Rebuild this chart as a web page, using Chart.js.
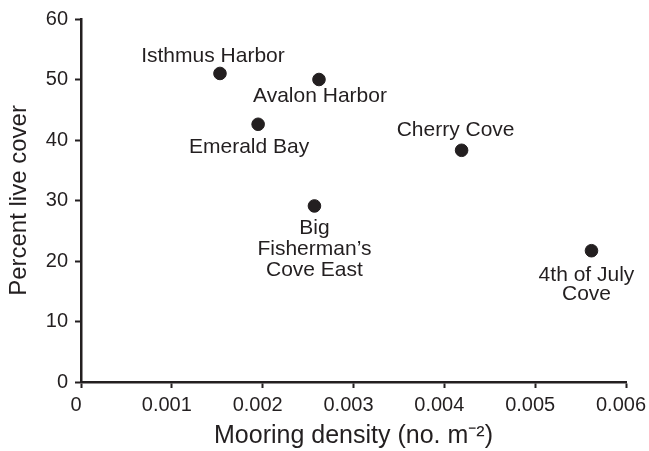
<!DOCTYPE html>
<html>
<head>
<meta charset="utf-8">
<script src="https://cdn.jsdelivr.net/npm/chart.js@4"></script>
<style>
  html, body { margin: 0; padding: 0; background: #fff; }
  #wrap { width: 649px; height: 451px; position: relative; }
</style>
</head>
<body>
<div id="wrap"><canvas id="grafico"></canvas></div>
<script>
// dados
const sitios = [
  ["Isthmus Harbor"],
  ["Avalon Harbor"],
  ["Emerald Bay"],
  ["Big", "Fisherman\u2019s", "Cove East"],
  ["Cherry Cove"],
  ["4th of July", "Cove"],
];
const densidade = [0.00153, 0.00262, 0.00195, 0.00257, 0.00419, 0.00562];
const coberturaViva = [51, 50, 42.6, 29.1, 38.3, 21.7];
const ticksX = [0, 0.001, 0.002, 0.003, 0.004, 0.005, 0.006];
const ticksY = [0, 10, 20, 30, 40, 50, 60];

// posição do rótulo em relação ao ponto (px): [dx, dy da 1a linha, entrelinha]
const deslocRotulo = [
  [-7, -17, 0],
  [1, 17, 0],
  [-9, 23, 0],
  [0, 22.5, 21],
  [-6, -20, 0],
  [-5, 24, 19.5],
];

const COR = "#231f20";
const FONTE = "'Liberation Sans', Arial, Helvetica, sans-serif";

const rotulosPlugin = {
  id: "rotulos",
  afterDatasetsDraw(chart) {
    const ctx = chart.ctx;
    const meta = chart.getDatasetMeta(0);
    ctx.save();
    ctx.fillStyle = COR;
    ctx.font = "21px " + FONTE;
    ctx.textAlign = "center";
    ctx.textBaseline = "middle";
    meta.data.forEach((pt, i) => {
      const [dx, dy, lh] = deslocRotulo[i];
      sitios[i].forEach((linha, k) => {
        ctx.fillText(linha, pt.x + dx, pt.y + dy + k * lh);
      });
    });
    ctx.restore();
  },
};

new Chart(document.getElementById("grafico"), {
  type: "scatter",
  data: {
    datasets: [{
      data: densidade.map((x, i) => ({ x, y: coberturaViva[i] })),
      backgroundColor: COR,
      borderColor: COR,
      pointRadius: 6.3,
      pointHoverRadius: 6.3,
    }],
  },
  options: {
    responsive: true,
    maintainAspectRatio: false,
    animation: false,
    events: [],
    layout: { padding: { top: 19, right: 23, left: 0, bottom: 0 } },
    plugins: { legend: { display: false }, tooltip: { enabled: false } },
    scales: {
      x: {
        type: "linear",
        min: 0,
        max: 0.006,
        afterBuildTicks: (s) => { s.ticks = ticksX.map((v) => ({ value: v })); },
        afterFit: (s) => { s.height = 69; s.paddingLeft = 0; s.paddingRight = 0; },
        border: { display: true, color: COR, width: 2.5 },
        grid: { drawOnChartArea: false, drawTicks: true, tickLength: 6, tickColor: COR, tickWidth: 2 },
        ticks: {
          color: COR,
          font: { family: FONTE, size: 20 },
          padding: 5,
          labelOffset: -5,
          maxRotation: 0,
          minRotation: 0,
          autoSkip: false,
          callback: (v) => (v === 0 ? "0" : Number(v).toFixed(3)),
        },
        title: {
          display: true,
          text: "Mooring density (no. m\u207B\u00B2)",
          color: COR,
          font: { family: FONTE, size: 25 },
          padding: { top: 0, bottom: 0 },
        },
      },
      y: {
        type: "linear",
        min: 0,
        max: 60,
        afterBuildTicks: (s) => { s.ticks = ticksY.map((v) => ({ value: v })); },
        afterFit: (s) => { s.width = 81; s.paddingTop = 0; s.paddingBottom = 0; },
        border: { display: true, color: COR, width: 2.5 },
        grid: { drawOnChartArea: false, drawTicks: true, tickLength: 6, tickColor: COR, tickWidth: 2 },
        ticks: {
          color: COR,
          font: { family: FONTE, size: 20 },
          padding: 7,
        },
        title: {
          display: true,
          text: "Percent live cover",
          color: COR,
          font: { family: FONTE, size: 24 },
          padding: { top: 5, bottom: 0 },
        },
      },
    },
  },
  plugins: [rotulosPlugin],
});
</script>
</body>
</html>
